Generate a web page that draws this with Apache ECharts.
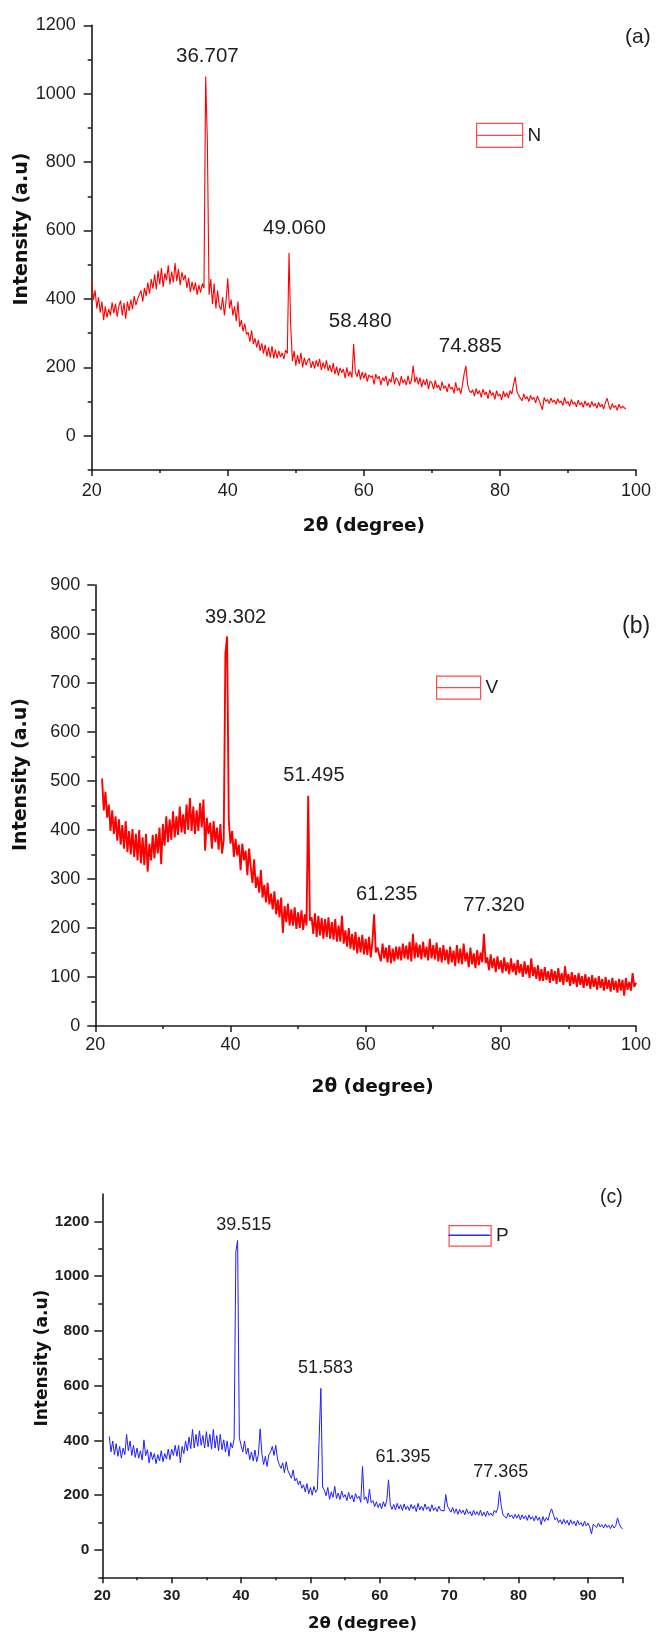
<!DOCTYPE html>
<html>
<head>
<meta charset="utf-8">
<script src="https://cdn.jsdelivr.net/npm/echarts@6/dist/echarts.min.js"></script>
<style>
html,body{margin:0;padding:0;background:#ffffff;}
#chart{width:657px;height:1635px;}
</style>
</head>
<body>
<div id="chart"></div>
<script>
// ---------------- DATA ----------------
const seriesNames = ['N', 'V', 'P'];
const panelTags = ['(a)', '(b)', '(c)'];
const xTitle = '2\u03b8 (degree)';
const yTitle = 'Intensity (a.u)';

// 2θ sampling (degrees): start of each scan and step between readings
const startA = 20, startB = 21, startC = 21, stepDeg = 0.25;

// Intensity readings, one row per degree (x.00, x.25, x.50, x.75)
const intensityA = [
452,398,425,372, 405,360,392,338, 378,345,370,352, 390,358,386,348, 380,395,352,388,
342,392,365,398, 370,408,382,400, 395,425,392,432, 408,448,415,458, 430,472,428,482,
442,490,435,475, 455,498,442,480, 448,505,452,488, 440,478,455,470, 432,462,420,450,
425,448,412,440, 418,445,432,1050, 860,412,458,385, 445,372,425,380, 368,405,352,395,
460,372,398,352, 378,335,392,318, 338,305,328,296, 302,275,308,268, 285,258,280,248,
270,240,266,232, 258,228,262,226, 252,226,248,230, 242,224,250,240, 535,320,218,248,
205,236,210,242, 200,228,206,220, 226,198,218,196, 220,202,225,192, 214,196,220,190,
206,186,212,180, 202,176,198,184, 195,168,200,174, 188,170,268,186, 172,194,164,186,
168,184,158,178, 170,176,150,180, 166,174,148,170, 160,175,146,166, 156,186,150,170,
162,146,174,154, 164,148,176,150, 162,205,156,172, 150,170,142,164, 148,166,136,160,
154,136,162,140, 148,132,158,138, 146,128,152,136, 142,124,156,132, 140,122,150,182,
204,150,132,126, 134,116,138,122, 132,112,136,120, 128,108,134,118, 126,106,132,116,
122,104,130,114, 126,110,132,122, 150,172,130,118, 116,102,122,108, 114,100,118,106,
112,96,116,104, 108,76,112,100, 106,94,110,98, 104,92,108,96, 102,88,112,94,
100,86,106,92, 98,84,104,90, 97,83,102,88, 96,82,100,86, 94,80,98,84,
92,78,96,110, 90,76,94,82, 88,74,92,80, 86,90,78
];

const intensityB = [
505,440,478,425, 452,398,440,392, 428,378,422,370, 410,362,418,355, 398,350,402,345,
392,338,400,332, 385,328,392,315, 372,338,390,342, 392,352,405,330, 412,368,428,375,
422,380,438,385, 428,390,448,395, 432,392,452,400, 465,398,448,392, 440,398,455,405,
462,358,425,392, 415,362,418,375, 405,360,412,352, 380,760,795,420, 372,398,345,382,
348,370,318,372, 338,358,308,362, 325,292,340,282, 305,272,318,262, 288,252,292,248,
270,238,275,228, 258,222,262,190, 245,212,250,205, 238,205,242,198, 232,200,236,196,
228,205,470,215, 222,188,230,182, 225,185,220,178, 218,182,222,178, 212,176,218,172,
205,172,225,168, 195,162,200,158, 188,155,192,148, 182,150,186,146, 178,145,182,140,
172,228,150,160, 162,132,168,138, 160,130,165,128, 158,132,162,136, 162,134,168,138,
164,136,172,132, 188,138,170,140, 166,136,172,140, 162,134,178,138, 165,136,170,132,
160,130,165,134, 156,126,162,130, 154,122,165,128, 158,126,168,132, 150,120,160,126,
148,118,155,124, 150,130,188,128, 140,114,146,118, 138,110,142,116, 134,108,140,112,
130,106,138,110, 128,104,135,108, 126,100,132,106, 124,98,138,102, 120,96,124,92,
116,92,120,94, 112,88,116,92, 112,86,118,90, 108,84,122,90, 106,82,110,86,
104,80,108,84, 102,78,106,82, 100,76,104,80, 98,74,102,78, 96,72,100,76,
94,70,98,74, 92,68,96,72, 94,62,98,74, 90,72,108,80, 88
];

const intensityC = [
415,358,398,348, 388,342,378,335, 372,348,422,362, 398,345,382,338, 372,335,362,328,
402,345,366,318, 358,330,352,315, 348,325,362,322, 352,332,368,330, 368,345,382,342,
382,318,378,352, 398,362,412,370, 440,372,422,378, 435,382,418,372, 432,376,422,368,
440,372,418,362, 422,366,402,358, 398,342,392,372, 405,1090,1130,410, 382,358,398,350,
372,330,358,325, 365,322,348,442, 352,312,342,305, 348,358,378,345, 382,332,312,298,
318,282,322,290, 288,262,292,252, 262,238,252,225, 238,212,242,205, 228,200,232,210,
222,215,590,230, 218,198,228,185, 212,192,232,188, 208,184,215,192, 202,180,210,186,
200,175,206,188, 196,174,305,184, 194,170,222,172, 180,158,176,155, 170,150,176,158,
182,256,166,148, 166,146,170,150, 165,144,168,148, 160,144,166,150, 162,140,170,146,
160,144,168,148, 158,140,165,144, 155,140,160,145, 150,142,202,160, 158,138,155,134,
150,130,148,134, 145,128,150,132, 140,124,145,128, 140,126,145,124, 138,122,142,126,
135,124,145,136, 152,214,160,128, 130,116,135,120, 128,114,130,116, 130,110,128,114,
125,108,128,112, 122,106,125,108, 120,92,122,104, 118,108,135,150, 130,110,118,100,
110,94,112,96, 108,90,110,94, 105,88,108,92, 100,86,105,88, 98,84,58,94,
95,82,98,84, 92,80,95,82, 90,78,92,80, 88,117,96,82, 78
];

// Peak annotations: text, and where the text sits (2θ, intensity)
const peakTextA = ['36.707', '49.060', '58.480', '74.885'];
const peakAtA = [[37.0, 1109], [49.8, 605], [59.46, 334], [75.63, 261]];
const peakTextB = ['39.302', '51.495', '61.235', '77.320'];
const peakAtB = [[40.75, 834], [52.35, 512], [63.11, 268], [78.98, 245]];
const peakTextC = ['39.515', '51.583', '61.395', '77.365'];
const peakAtC = [[40.4, 1186], [52.16, 664], [63.33, 338], [77.42, 283]];

// Tick labels
const yLabelsA = [0, 200, 400, 600, 800, 1000, 1200];
const yMinorA = [-100, 100, 300, 500, 700, 900, 1100];
const yLabelsC = [0, 200, 400, 600, 800, 1000, 1200];
const yMinorC = [-100, 100, 300, 500, 700, 900, 1100];

// ---------------- BUILD ----------------
function toPairs(start, step, arr) {
  return arr.map((v, i) => [Math.round((start + i * step) * 100) / 100, v]);
}
function marks(texts, at, fs) {
  return {
    symbol: 'circle', symbolSize: 1, silent: true,
    itemStyle: { color: 'rgba(0,0,0,0)' },
    label: { show: true, position: 'inside', formatter: '{b}', fontSize: fs,
      fontFamily: 'Liberation Sans, Arial, sans-serif', color: '#1e1e1e' },
    data: texts.map((t, i) => ({ name: t, coord: at[i] }))
  };
}
const plain = v => String(v);

const AX = '#1a1a1a';
const tickFont = 'Liberation Sans, Arial, sans-serif';
const titleFont = 'DejaVu Sans, Verdana, sans-serif';

function xAxisCfg(gi, max, interval, fs, bold, margin, gap, nameFs, namePad, hideMax) {
  return {
    type: 'value', gridIndex: gi, min: 20, max: max, interval: interval,
    name: xTitle, nameLocation: 'middle', nameGap: gap, nameMoveOverlap: false,
    nameTextStyle: { fontFamily: titleFont, fontWeight: 'bold', fontSize: nameFs, color: '#111', padding: namePad },
    axisLine: { show: true, onZero: false, lineStyle: { color: AX, width: 1.6 } },
    axisTick: { show: true, inside: false, length: 6, lineStyle: { color: AX, width: 1.5 } },
    minorTick: { show: true, splitNumber: 2, length: 3, lineStyle: { color: AX, width: 1.5 } },
    splitLine: { show: false }, minorSplitLine: { show: false },
    axisLabel: { show: true, margin: margin, fontSize: fs, fontWeight: bold ? 'bold' : 'normal', formatter: plain,
      fontFamily: tickFont, color: '#1e1e1e', showMaxLabel: hideMax ? false : true, hideOverlap: false }
  };
}
function yAxisMain(gi, min, max, labels, fs, bold, margin, gap, nameFs, namePad) {
  return {
    type: 'value', gridIndex: gi, min: min, max: max, position: 'left',
    name: yTitle, nameLocation: 'middle', nameGap: gap, nameMoveOverlap: false,
    nameTextStyle: { fontFamily: titleFont, fontWeight: 'bold', fontSize: nameFs, color: '#111', padding: namePad },
    axisLine: { show: true, onZero: false, lineStyle: { color: AX, width: 1.6 } },
    axisTick: { show: true, inside: false, length: 8, customValues: labels, lineStyle: { color: AX, width: 1.5 } },
    splitLine: { show: false },
    axisLabel: { show: true, customValues: labels, margin: margin, fontSize: fs, formatter: plain,
      fontWeight: bold ? 'bold' : 'normal', fontFamily: tickFont, color: '#1e1e1e', hideOverlap: false }
  };
}
function yAxisMinor(gi, min, max, values) {
  return {
    type: 'value', gridIndex: gi, min: min, max: max, position: 'left', offset: 0,
    axisLine: { show: false },
    axisTick: { show: true, inside: false, length: 4, customValues: values, lineStyle: { color: AX, width: 1.5 } },
    axisLabel: { show: false }, splitLine: { show: false }
  };
}

const legendBase = {
  orient: 'horizontal', padding: 0, itemGap: 0, selectedMode: false,
  itemStyle: { color: 'rgba(0,0,0,0)', borderColor: '#ff4a4a', borderWidth: 1.2 },
  textStyle: { fontSize: 19, fontFamily: tickFont, color: '#1e1e1e', padding: [0, 0, 0, 0] }
};

const option = {
  animation: false,
  backgroundColor: '#ffffff',
  title: [
    { text: panelTags[0], left: 625, top: 27, padding: 0, textStyle: { fontSize: 21, fontWeight: 'normal', fontFamily: tickFont, color: '#1e1e1e' } },
    { text: panelTags[1], left: 622, top: 615, padding: 0, textStyle: { fontSize: 23, fontWeight: 'normal', fontFamily: tickFont, color: '#1e1e1e' } },
    { text: panelTags[2], left: 600, top: 1188, padding: 0, textStyle: { fontSize: 19.5, fontWeight: 'normal', fontFamily: tickFont, color: '#1e1e1e' } }
  ],
  legend: [
    Object.assign({}, legendBase, { data: [seriesNames[0]], left: 476, top: 122.7, itemWidth: 46, itemHeight: 24, icon: 'path://M0,0H46V24H0ZM0,12H46' }),
    Object.assign({}, legendBase, { data: [seriesNames[1]], left: 436, top: 675.5, itemWidth: 44, itemHeight: 23, icon: 'path://M0,0H44V23H0ZM0,11.5H44' }),
    Object.assign({}, legendBase, { data: [seriesNames[2]], left: 448.5, top: 1225, itemWidth: 42, itemHeight: 20.5, icon: 'path://M0,0H42V20.5H0Z' })
  ],
  graphic: [
    { type: 'line', z: 100, silent: true, shape: { x1: 448.5, y1: 1235.25, x2: 490.5, y2: 1235.25 }, style: { stroke: '#2b2bff', lineWidth: 1.3 } }
  ],
  grid: [
    { left: 91.7, top: 25.3, width: 544.3, height: 444.6, outerBoundsMode: 'none', containLabel: false },
    { left: 95.3, top: 585, width: 540.7, height: 441, outerBoundsMode: 'none', containLabel: false },
    { left: 102.3, top: 1194, width: 520.4, height: 383.3, outerBoundsMode: 'none', containLabel: false }
  ],
  xAxis: [
    xAxisCfg(0, 100, 20, 18, false, 12, 47, 18.5, [0, 0, 0, 0], false),
    xAxisCfg(1, 100, 20, 18, false, 10.5, 52, 18.5, [0, 0, 0, 14], false),
    xAxisCfg(2, 95, 10, 15.5, true, 10.5, 38, 16.5, [0, 0, 0, 0], true)
  ],
  yAxis: [
    yAxisMain(0, -100, 1200, yLabelsA, 18, false, 16, 60, 19, [0, 0, 0, 37]),
    yAxisMinor(0, -100, 1200, yMinorA),
    {
      type: 'value', gridIndex: 1, min: 0, max: 900, interval: 100, position: 'left',
      name: yTitle, nameLocation: 'middle', nameGap: 65, nameMoveOverlap: false,
      nameTextStyle: { fontFamily: titleFont, fontWeight: 'bold', fontSize: 19, color: '#111', padding: [0, 0, 0, 62] },
      axisLine: { show: true, onZero: false, lineStyle: { color: AX, width: 1.6 } },
      axisTick: { show: true, inside: false, length: 8, lineStyle: { color: AX, width: 1.5 } },
      minorTick: { show: true, splitNumber: 2, length: 4, lineStyle: { color: AX, width: 1.5 } },
      splitLine: { show: false }, minorSplitLine: { show: false },
      axisLabel: { show: true, margin: 15, fontSize: 18, formatter: plain, fontFamily: tickFont, color: '#1e1e1e', hideOverlap: false }
    },
    yAxisMain(2, -100, 1300, yLabelsC, 15.5, true, 13, 51, 17, [0, 0, 0, 55]),
    yAxisMinor(2, -100, 1300, yMinorC)
  ],
  series: [
    {
      name: seriesNames[0], type: 'line', xAxisIndex: 0, yAxisIndex: 0,
      data: toPairs(startA, stepDeg, intensityA), showSymbol: false, symbol: 'none', silent: true,
      lineStyle: { color: '#ff0000', width: 1.1 }, itemStyle: { color: '#ff0000' },
      markPoint: marks(peakTextA, peakAtA, 20.5)
    },
    {
      name: seriesNames[1], type: 'line', xAxisIndex: 1, yAxisIndex: 2,
      data: toPairs(startB, stepDeg, intensityB), showSymbol: false, symbol: 'none', silent: true,
      lineStyle: { color: '#ff0000', width: 1.9 }, itemStyle: { color: '#ff0000' },
      markPoint: marks(peakTextB, peakAtB, 20)
    },
    {
      name: seriesNames[2], type: 'line', xAxisIndex: 2, yAxisIndex: 3,
      data: toPairs(startC, stepDeg, intensityC), showSymbol: false, symbol: 'none', silent: true,
      lineStyle: { color: '#1f1fff', width: 1 }, itemStyle: { color: '#1f1fff' },
      markPoint: marks(peakTextC, peakAtC, 18)
    }
  ]
};

const chart = echarts.init(document.getElementById('chart'), null, { renderer: 'canvas', width: 657, height: 1635 });
chart.setOption(option);
</script>
</body>
</html>
